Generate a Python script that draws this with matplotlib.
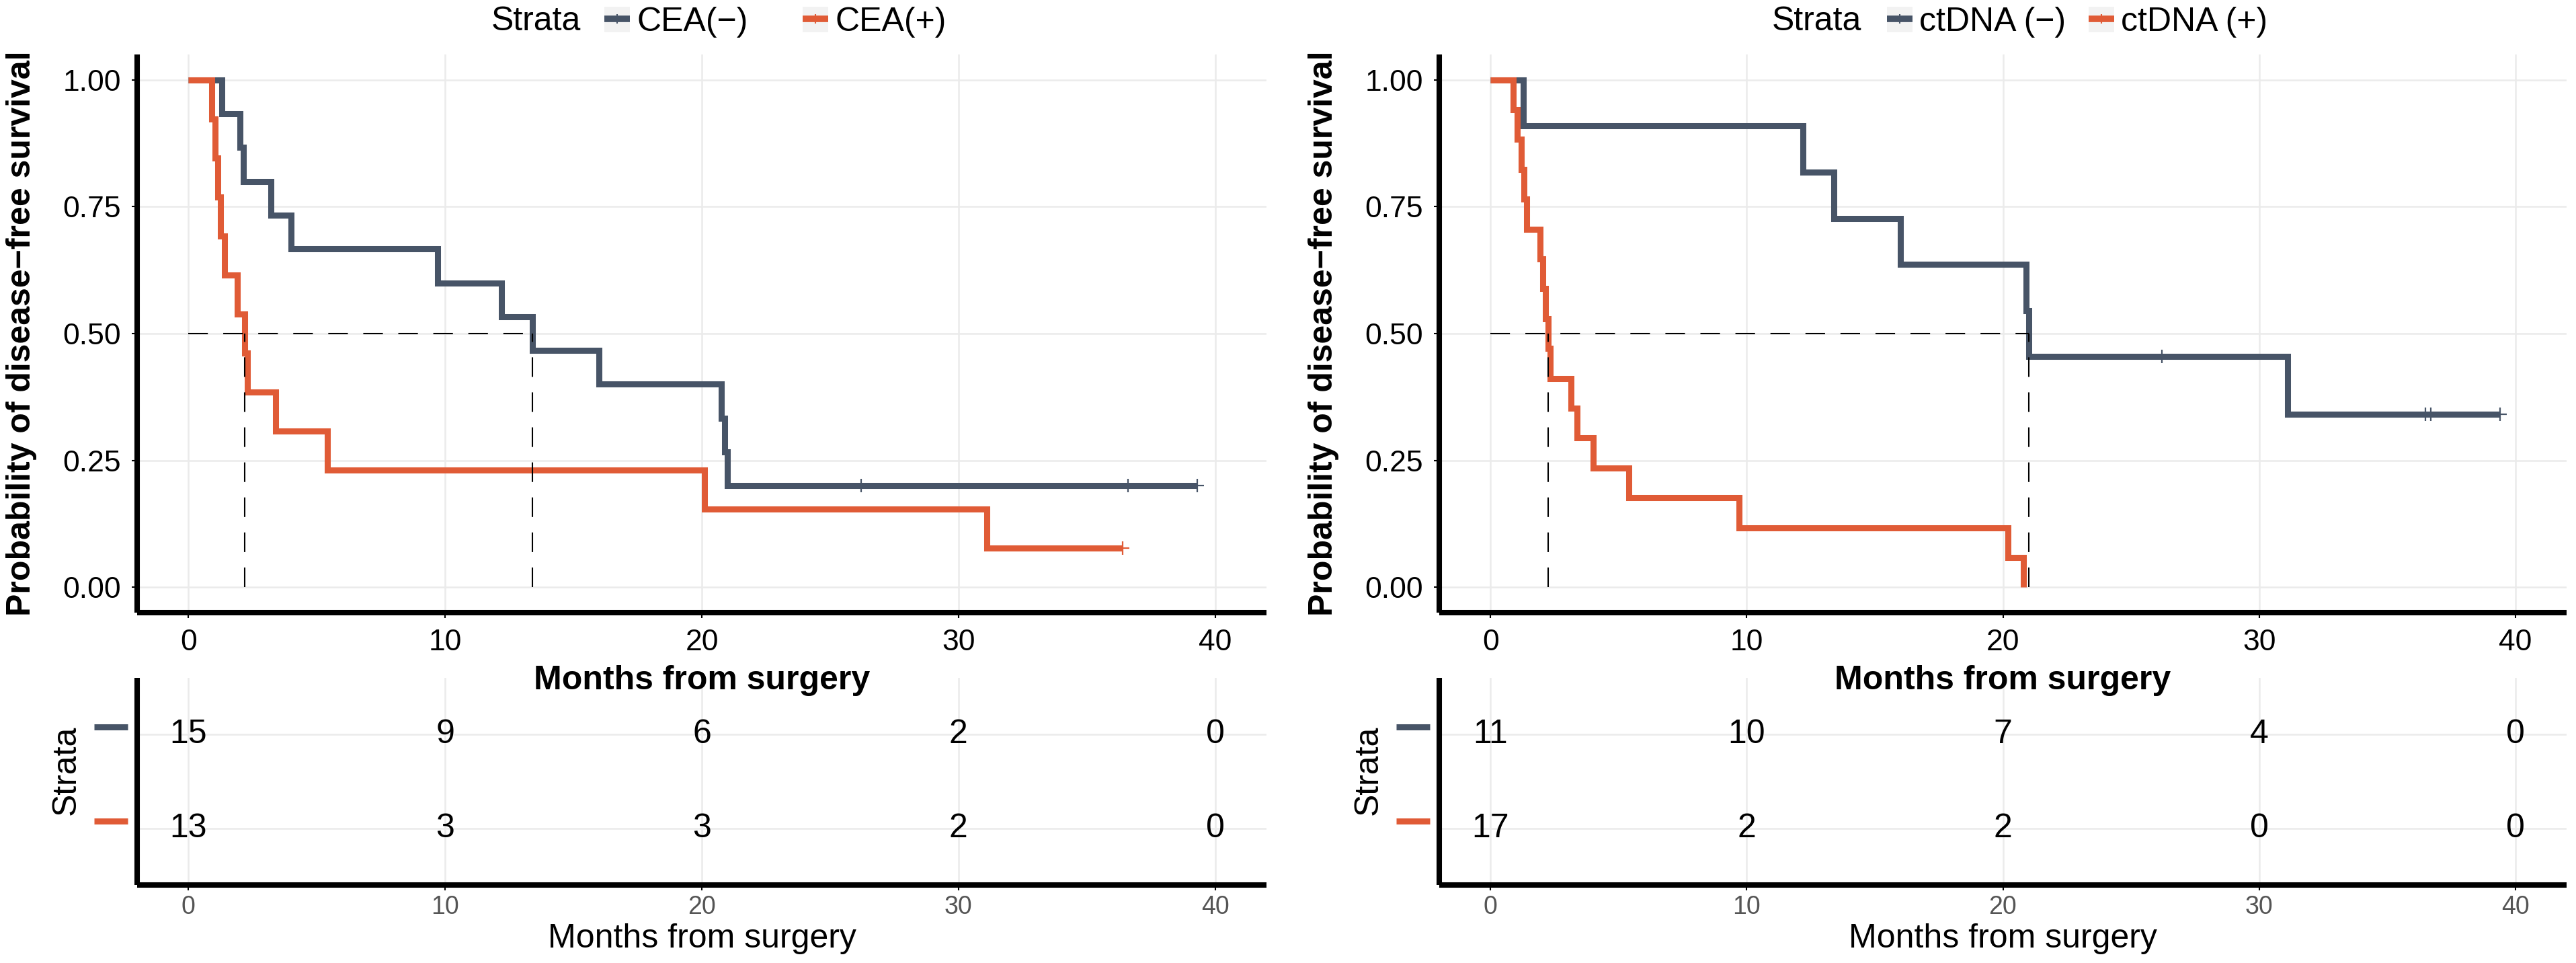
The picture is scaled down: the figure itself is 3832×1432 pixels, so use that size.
import numpy as np
import matplotlib
matplotlib.use("Agg")
import matplotlib.pyplot as plt
from matplotlib.lines import Line2D
from matplotlib.patches import Patch
import matplotlib.transforms as mtransforms

plt.rcParams['font.family'] = ['Liberation Sans', 'DejaVu Sans']

# ---------------- data ----------------
cea_labels = ["CEA(\u2212)", "CEA(+)"]
cea_neg_events = [1.3, 2.0, 2.13, 3.2, 4.0, 9.7, 12.2, 13.4, 16.0, 20.75, 20.9, 21.0]
cea_neg_censored = [26.2, 36.6, 39.3]
cea_pos_events = [0.9, 1.03, 1.15, 1.25, 1.4, 1.9, 2.18, 2.3, 3.4, 5.4, 20.1, 31.1]
cea_pos_censored = [36.4]

ctdna_labels = ["ctDNA (\u2212)", "ctDNA (+)"]
ctdna_neg_events = [1.29, 12.2, 13.4, 16.0, 20.9, 21.0, 31.1]
ctdna_neg_censored = [26.2, 36.5, 36.7, 39.4]
ctdna_pos_events = [0.89, 1.04, 1.19, 1.31, 1.41, 1.94, 2.05, 2.15, 2.25, 2.34,
                    3.15, 3.37, 4.0, 5.4, 9.7, 20.2, 20.8]
ctdna_pos_censored = []

risk_times = [0, 10, 20, 30, 40]
cea_risk_neg = [15, 9, 6, 2, 0]
cea_risk_pos = [13, 3, 3, 2, 0]
ctdna_risk_neg = [11, 10, 7, 4, 0]
ctdna_risk_pos = [17, 2, 2, 0, 0]

x_ticks = [0, 10, 20, 30, 40]
y_ticks = [0.0, 0.25, 0.50, 0.75, 1.00]
y_tick_labels = ["0.00", "0.25", "0.50", "0.75", "1.00"]

COL_NEG = '#475467'
COL_POS = '#E05B36'
GRID = '#EBEBEB'
CURVE_LW = 6.5

W, H = 3832, 1432
fig = plt.figure(figsize=(W / 100, H / 100), dpi=100)


def km(events, censored):
    times = sorted(set(events) | set(censored))
    at_risk = len(events) + len(censored)
    s = 1.0
    xs, ys, cens = [0.0], [1.0], []
    for t in times:
        d = events.count(t)
        c = censored.count(t)
        if d:
            s *= (at_risk - d) / at_risk
        xs.append(t)
        ys.append(s)
        if c:
            cens.append((t, s))
        at_risk -= d + c
    return xs, ys, cens


def median(xs, ys):
    for x, y in zip(xs, ys):
        if y <= 0.5:
            return x
    return None


def fx(px):
    return px / W


def fy(py):
    return 1 - py / H


def style_axis(ax):
    for side in ['top', 'right']:
        ax.spines[side].set_visible(False)
    for side in ['left', 'bottom']:
        ax.spines[side].set_linewidth(5.8)
        ax.spines[side].set_color('black')
        ax.spines[side].set_capstyle('butt')
    ax.tick_params(length=5.5, width=1.5, color='black')


def panel(left_px, right_px, groups, labels, risks, legend_pos):
    pw = right_px - left_px
    # main KM axes
    ax = fig.add_axes([fx(left_px), fy(911), fx(pw), (911 - 81) / H])
    ax.set_zorder(3)
    ax.patch.set_alpha(0)
    ax.set_xlim(-2, 42)
    ax.set_ylim(-0.05, 1.05)
    ax.set_xticks(x_ticks)
    ax.set_yticks(y_ticks)
    ax.set_yticklabels(y_tick_labels)
    ax.grid(True, color=GRID, lw=1.8, zorder=0)
    ax.set_axisbelow(True)
    style_axis(ax)
    ax.tick_params(labelsize=32, pad=12, labelcolor='black')

    meds = []
    for (ev, ce), col in zip(groups, [COL_NEG, COL_POS]):
        xs, ys, cens = km(ev, ce)
        ax.step(xs, ys, where='post', color=col, lw=CURVE_LW, zorder=3,
                solid_joinstyle='miter', solid_capstyle='butt')
        if cens:
            cx, cy = zip(*cens)
            ax.plot(cx, cy, ls='none', marker='+', ms=15, mew=1.6, color=col, zorder=4)
        meds.append(median(xs, ys))
    mmax = max(m for m in meds if m is not None)
    dash = (0, (14, 11))
    ax.plot([0, mmax], [0.5, 0.5], color='black', lw=1.5, ls=dash, zorder=5)
    for m in meds:
        if m is not None:
            ax.plot([m, m], [0, 0.5], color='black', lw=1.5, ls=dash, zorder=5)

    ax.set_xlabel("Months from surgery", fontsize=36, fontweight='bold')
    ax.xaxis.set_label_coords(0.5, (911 - 1025) / (911 - 81))
    ax.xaxis.label.set_va('baseline')
    ax.set_ylabel("Probability of disease\u2212free survival", fontsize=36, fontweight='bold')
    ax.yaxis.set_label_coords(-172 / pw, 0.5)
    ax.yaxis.label.set_va('center')

    # legend
    lx_title, lx_keys, cs = legend_pos
    fig.text(fx(lx_title), fy(32), "Strata", fontsize=36, ha='left', va='center')
    handles = [(Patch(facecolor='#F2F2F2', edgecolor='none'),
                Line2D([], [], color=c, lw=7, marker='+', ms=10, mew=1.5,
                       solid_capstyle='butt'))
               for c in [COL_NEG, COL_POS]]
    fig.legend(handles, labels, loc='center left', bbox_to_anchor=(fx(lx_keys), fy(33)),
               ncol=2, frameon=False, fontsize=36, handlelength=0.76, handleheight=0.8,
               handletextpad=0.2, columnspacing=cs, borderpad=0, borderaxespad=0)

    # risk table
    rax = fig.add_axes([fx(left_px), fy(1316), fx(pw), (1316 - 1008) / H])
    rax.set_zorder(1)
    rax.set_xlim(-2, 42)
    rax.set_ylim(0.4, 2.6)
    rax.set_xticks(x_ticks)
    rax.set_yticks([1, 2])
    rax.set_yticklabels([])
    rax.grid(True, color=GRID, lw=1.8, zorder=0)
    rax.set_axisbelow(True)
    style_axis(rax)
    rax.tick_params(axis='y', length=0)
    rax.tick_params(axis='x', labelsize=27, pad=5, labelcolor='#555555')
    rows = [2, 1]
    trans = mtransforms.blended_transform_factory(rax.transAxes, rax.transData) + \
        mtransforms.ScaledTranslation(0, 0.11, fig.dpi_scale_trans)
    bx0 = -64 / pw
    bx1 = -14 / pw
    for risk, row, col in zip(risks, rows, [COL_NEG, COL_POS]):
        for t, n in zip(risk_times, risk):
            rax.text(t, row, str(n), fontsize=36, ha='center', va='center', color='black')
        rax.plot([bx0, bx1], [row, row], transform=trans, color=col, lw=6.5,
                 solid_capstyle='butt', clip_on=False)
    rax.set_xlabel("Months from surgery", fontsize=36)
    rax.xaxis.set_label_coords(0.5, (1316 - 1409) / (1316 - 1008))
    rax.xaxis.label.set_va('baseline')
    rax.set_ylabel("Strata", fontsize=36)
    rax.yaxis.set_label_coords(-105 / pw, (1316 - 1145) / (1316 - 1008))
    rax.yaxis.label.set_va('center')
    return ax, rax


panel(204, 1884,
      [(cea_neg_events, cea_neg_censored), (cea_pos_events, cea_pos_censored)],
      cea_labels, [cea_risk_neg, cea_risk_pos], (731, 899, 1.64))
panel(2141, 3818,
      [(ctdna_neg_events, ctdna_neg_censored), (ctdna_pos_events, ctdna_pos_censored)],
      ctdna_labels, [ctdna_risk_neg, ctdna_risk_pos], (2636, 2807, 0.68))

fig.savefig("out.png", dpi=100)
